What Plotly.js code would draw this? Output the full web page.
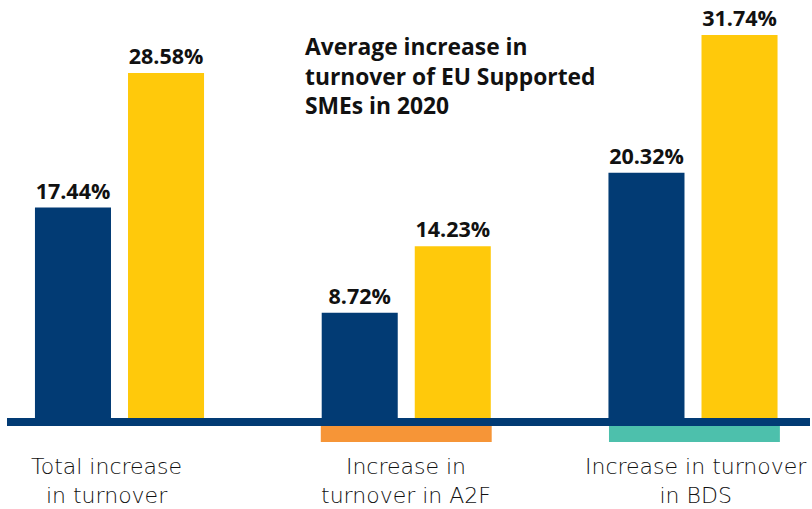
<!DOCTYPE html>
<html>
<head>
<meta charset="utf-8">
<script src="https://cdn.plot.ly/plotly-3.0.1.min.js"></script>
<style>html,body{margin:0;padding:0;background:#fff;}#chart{width:812px;height:509px;}</style>
</head>
<body>
<div id="chart"></div>
<script>
const categories = ['Total', 'A2F', 'BDS'];
const categoryLabels = ['Total increase<br>in turnover', 'Increase in<br>turnover in A2F', 'Increase in turnover<br>in BDS'];
const seriesBlue = [17.44, 8.72, 20.32];
const seriesYellow = [28.58, 14.23, 31.74];
const chartTitle = 'Average increase in<br>turnover of EU Supported<br>SMEs in 2020';

const BLUE = '#023b74';
const YELLOW = '#ffc90b';
const ORANGE = '#f69537';
const TEAL = '#4dc0ac';

const pxPerUnit = 12.07;      // y px per percent
const basePx = 418;           // pixel row of y=0
const plotBottomPx = 450;
const W = 812, H = 509;
const slot = 286.75;          // px per category
const firstCenter = 119.5;

const yTop = basePx / pxPerUnit;
const yBottom = -(plotBottomPx - basePx) / pxPerUnit;
const x0 = -firstCenter / slot;
const x1 = x0 + W / slot;

const FONT = '"Open Sans", Lato, sans-serif';
const LIGHT_FONT = '"DejaVu Sans", "Open Sans", sans-serif';
const valueFont = {family: FONT, size: 21.5, color: '#111111', weight: 700};

const traces = [
  {type: 'bar', x: [0,1,2], y: seriesBlue, name: 'Blue', marker: {color: BLUE},
   text: seriesBlue.map(v => v.toFixed(2) + '%'), textposition: 'outside', textfont: valueFont, cliponaxis: false, hoverinfo: 'skip'},
  {type: 'bar', x: [0,1,2], y: seriesYellow, name: 'Yellow', marker: {color: YELLOW},
   text: seriesYellow.map(v => v.toFixed(2) + '%'), textposition: 'outside', textfont: valueFont, cliponaxis: false, hoverinfo: 'skip'}
];

const labelShift = [-13.5, 0, 3];
const annotations = categoryLabels.map((t, i) => ({
  text: t, x: i, xref: 'x', y: (plotBottomPx - 452) / plotBottomPx, yref: 'paper',
  xanchor: 'center', yanchor: 'top', showarrow: false, xshift: labelShift[i],
  font: {family: LIGHT_FONT, size: 22, color: '#111111', weight: 300}, align: 'center'
}));

const shapes = [
  {type: 'rect', xref: 'paper', yref: 'y', x0: 7 / W, x1: 810 / W, y0: 0, y1: -8 / pxPerUnit,
   fillcolor: BLUE, line: {width: 0}, layer: 'above'},
  {type: 'rect', xref: 'x', yref: 'y', x0: 1 - 0.298, x1: 1 + 0.298, y0: -8 / pxPerUnit, y1: -24 / pxPerUnit,
   fillcolor: ORANGE, line: {width: 0}},
  {type: 'rect', xref: 'x', yref: 'y', x0: 2 - 0.293, x1: 2 + 0.303, y0: -8 / pxPerUnit, y1: -24 / pxPerUnit,
   fillcolor: TEAL, line: {width: 0}}
];

const layout = {
  width: W, height: H,
  margin: {l: 0, r: 0, t: 0, b: H - plotBottomPx, pad: 0},
  paper_bgcolor: '#ffffff', plot_bgcolor: '#ffffff',
  showlegend: false,
  barmode: 'group', bargap: 0.351, bargroupgap: 0.183,
  title: {text: chartTitle, x: 305 / W, xanchor: 'left', xref: 'paper', y: 1 - 55 / H, yanchor: 'top', yref: 'container',
          font: {family: FONT, size: 22.8, color: '#111111', weight: 700}},
  xaxis: {range: [x0, x1], showticklabels: false, showgrid: false, zeroline: false, showline: false, ticks: '', fixedrange: true},
  yaxis: {range: [yBottom, yTop], showticklabels: false, showgrid: false, zeroline: false, showline: false, ticks: '', fixedrange: true},
  annotations: annotations,
  shapes: shapes
};

Plotly.newPlot('chart', traces, layout, {displayModeBar: false, staticPlot: true});
</script>
</body>
</html>
